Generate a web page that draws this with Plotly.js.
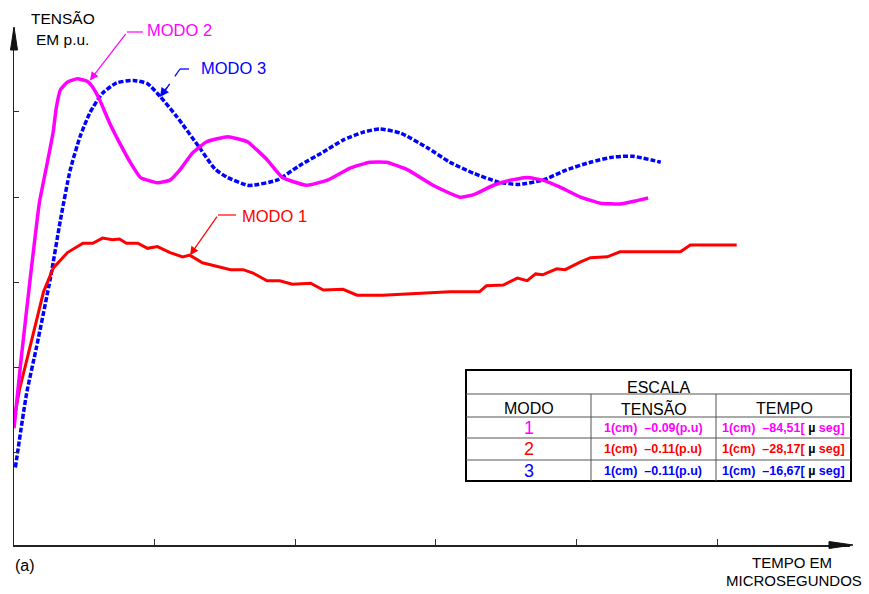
<!DOCTYPE html>
<html><head><meta charset="utf-8">
<script src="https://cdn.plot.ly/plotly-3.0.1.min.js"></script>
<style>html,body{margin:0;padding:0;background:#fff}</style>
</head><body>
<div id="chart" style="width:869px;height:594px"></div>
<script>
// ---- data (axis units: x ticks 1..5, y ticks 1..5) ----
const modo1X = [0,0.04,0.10,0.16,0.21,0.28,0.38,0.49,0.56,0.63,0.70,0.75,0.80,0.88,0.95,1.02,1.11,1.20,1.25,1.34,1.44,1.54,1.63,1.70,1.80,1.89,1.98,2.11,2.20,2.34,2.44,2.62,3.10,3.31,3.36,3.48,3.58,3.65,3.71,3.76,3.86,3.92,4.03,4.10,4.22,4.31,4.74,4.81,5.14];
const modo1Y = [1.39,1.75,2.15,2.55,2.89,3.17,3.35,3.46,3.46,3.52,3.50,3.51,3.46,3.46,3.40,3.42,3.35,3.30,3.32,3.23,3.19,3.15,3.15,3.11,3.02,3.02,2.98,2.99,2.91,2.92,2.85,2.85,2.89,2.89,2.96,2.97,3.05,3.02,3.10,3.09,3.16,3.15,3.24,3.29,3.30,3.36,3.36,3.44,3.44];

const modo2X = [0,0.05,0.11,0.18,0.24,0.28,0.30,0.33,0.38,0.45,0.52,0.56,0.61,0.68,0.75,0.83,0.90,1.02,1.11,1.18,1.27,1.37,1.52,1.66,1.80,1.91,2.08,2.23,2.39,2.53,2.65,2.80,2.98,3.17,3.27,3.41,3.53,3.65,3.76,3.88,4.03,4.17,4.31,4.43,4.51];
const modo2Y = [1.29,2.09,2.97,3.93,4.43,4.78,5.04,5.26,5.35,5.39,5.36,5.29,5.14,4.87,4.64,4.40,4.23,4.17,4.20,4.32,4.52,4.65,4.71,4.65,4.44,4.23,4.14,4.20,4.34,4.41,4.41,4.32,4.14,4.00,4.03,4.14,4.20,4.23,4.20,4.12,4.00,3.93,3.92,3.96,3.99];

const modo3X = [0.01,0.09,0.16,0.26,0.33,0.40,0.47,0.54,0.63,0.73,0.85,0.95,1.04,1.16,1.32,1.43,1.52,1.66,1.70,1.87,2.03,2.20,2.34,2.48,2.60,2.75,2.94,3.10,3.27,3.44,3.58,3.76,3.93,4.10,4.26,4.40,4.60];
const modo3Y = [0.83,1.70,2.24,3.06,3.73,4.32,4.71,4.99,5.22,5.34,5.37,5.33,5.18,4.94,4.58,4.33,4.23,4.14,4.14,4.20,4.37,4.53,4.67,4.76,4.80,4.75,4.58,4.41,4.28,4.18,4.15,4.20,4.32,4.41,4.47,4.48,4.41];

const xTicks = [1,2,3,4,5];
const yTicks = [1,2,3,4,5];

const seriesNames = ['MODO 1','MODO 2','MODO 3'];
const tableTitle = 'ESCALA';
const tableHeaders = ['MODO','TENSÃO','TEMPO'];
const tableModes = ['1','2','3'];
const tableTensao = ['1(cm)  –0.09(p.u)','1(cm)  –0.11(p.u)','1(cm)  –0.11(p.u)'];
const tableTempo = ['1(cm)  –84,51','1(cm)  –28,17','1(cm)  –16,67'];
const tableColors = ['#ff00ff','#ff0000','#0000ff'];

// ---- layout helpers (pixel -> paper) ----
const L=14, R=850, T=28, B=545;
const px = p => (p-L)/(R-L);
const py = p => (B-p)/(B-T);
const FONT = 'Liberation Sans, Arial, sans-serif';

const traces = [
  {x: modo3X, y: modo3Y, mode:'lines', name: seriesNames[2], line:{color:'#0000ff', width:3.5, dash:'5px,2px', shape:'spline', smoothing:0.6}, hoverinfo:'skip'},
  {x: modo1X, y: modo1Y, mode:'lines', name: seriesNames[0], line:{color:'#ff0000', width:3}, hoverinfo:'skip'},
  {x: modo2X, y: modo2Y, mode:'lines', name: seriesNames[1], line:{color:'#ff00ff', width:3.5, shape:'spline', smoothing:0.4}, hoverinfo:'skip'}
];

const shapes = [];
const ann = [];
function seg(x0,y0,x1,y1,color,w,dash){
  shapes.push({type:'line', xref:'paper', yref:'paper', x0:px(x0), y0:py(y0), x1:px(x1), y1:py(y1), line:{color:color, width:w, dash:dash||'solid'}});
}
function txt(t, x, y, color, size, xanchor, bold){
  ann.push({xref:'paper', yref:'paper', x:px(x), y:py(y), text: bold?('<b>'+t+'</b>'):t, showarrow:false,
    xanchor:xanchor||'center', yanchor:'middle', font:{family:FONT, size:size, color:color}});
}
function arrowTo(xv, yv, ax, ay, color, w){
  ann.push({x:xv, y:yv, xref:'x', yref:'y', text:'', showarrow:true, ax:ax, ay:ay,
    arrowcolor:color, arrowwidth:w, arrowhead:2, arrowsize:1.4});
}

// axis arrowheads
shapes.push({type:'path', xref:'paper', yref:'paper', path:`M ${px(10.5)},${py(50)} L ${px(14)},${py(27)} L ${px(17.5)},${py(50)} Z`, fillcolor:'#111', line:{color:'#111', width:1}});
shapes.push({type:'path', xref:'paper', yref:'paper', path:`M ${px(829)},${py(541.5)} L ${px(853)},${py(545)} L ${px(829)},${py(548.5)} Z`, fillcolor:'#111', line:{color:'#111', width:1}});

// leaders
seg(127,32,143,32,'#ff00ff',1.2);
arrowTo(0.54, 5.37, 37, -48, '#ff00ff', 1.2);
seg(180,69,198,69,'#0000ff',1.3,'dash');
seg(180,69,164,92,'#0000ff',1.3,'dash');
arrowTo(1.038, 5.175, 8, -11, '#0000ff', 1.3);
seg(218,215,236,215,'#ff0000',1.2);
arrowTo(1.252, 3.32, 28, -40, '#ff0000', 1.2);

// labels
txt(seriesNames[1], 145, 30, '#ff00ff', 16.5, 'left');
txt(seriesNames[2], 199, 68, '#0000ff', 16.5, 'left');
txt(seriesNames[0], 240, 216, '#ff0000', 16.5, 'left');
txt('TENSÃO', 63, 18, '#000', 15.5);
txt('EM p.u.', 62, 40, '#000', 15.5);
txt('(a)', 13, 565, '#000', 16, 'left');
txt('TEMPO EM', 792, 562, '#000', 15);
txt('MICROSEGUNDOS', 794, 580, '#000', 15);

// table
shapes.push({type:'rect', xref:'paper', yref:'paper', x0:px(466), y0:py(370), x1:px(851), y1:py(481), line:{color:'#000', width:2}, fillcolor:'rgba(255,255,255,0)'});
[394,417,438,460].forEach(yy => seg(466,yy,851,yy,'#555',1));
[591,716].forEach(xx => seg(xx,394,xx,481,'#555',1));
txt(tableTitle, 658, 387, '#000', 16);
txt(tableHeaders[0], 529, 408, '#000', 16);
txt(tableHeaders[1], 654, 408, '#000', 16);
txt(tableHeaders[2], 784, 408, '#000', 16);
const rowY = [428, 449, 471];
for (let i=0;i<3;i++){
  txt(tableModes[i], 529, rowY[i], tableColors[i], 18);
  txt(tableTensao[i], 653, rowY[i], tableColors[i], 12.5, 'center', true);
  txt(tableTempo[i] + '[ <span style="color:#000">µ</span> seg]', 783, rowY[i], tableColors[i], 12.5, 'center', true);
}

const layout = {
  width:869, height:594,
  margin:{l:L, r:869-R, t:T, b:594-B, pad:0},
  paper_bgcolor:'#fff', plot_bgcolor:'#fff',
  showlegend:false,
  font:{family:FONT},
  xaxis:{range:[0,(R-L)/140.6], showline:true, linecolor:'#222', linewidth:1.5, ticks:'inside', ticklen:6, tickwidth:1, tickcolor:'#333',
    tickvals:xTicks, showticklabels:false, showgrid:false, zeroline:false, fixedrange:true},
  yaxis:{range:[-0.08,(B-T)/85.25-0.08], showline:true, linecolor:'#222', linewidth:1.5, ticks:'inside', ticklen:5, tickwidth:1, tickcolor:'#333',
    tickvals:yTicks, showticklabels:false, showgrid:false, zeroline:false, fixedrange:true},
  shapes:shapes, annotations:ann
};
Plotly.newPlot('chart', traces, layout, {staticPlot:true, displayModeBar:false});
</script>
</body></html>
